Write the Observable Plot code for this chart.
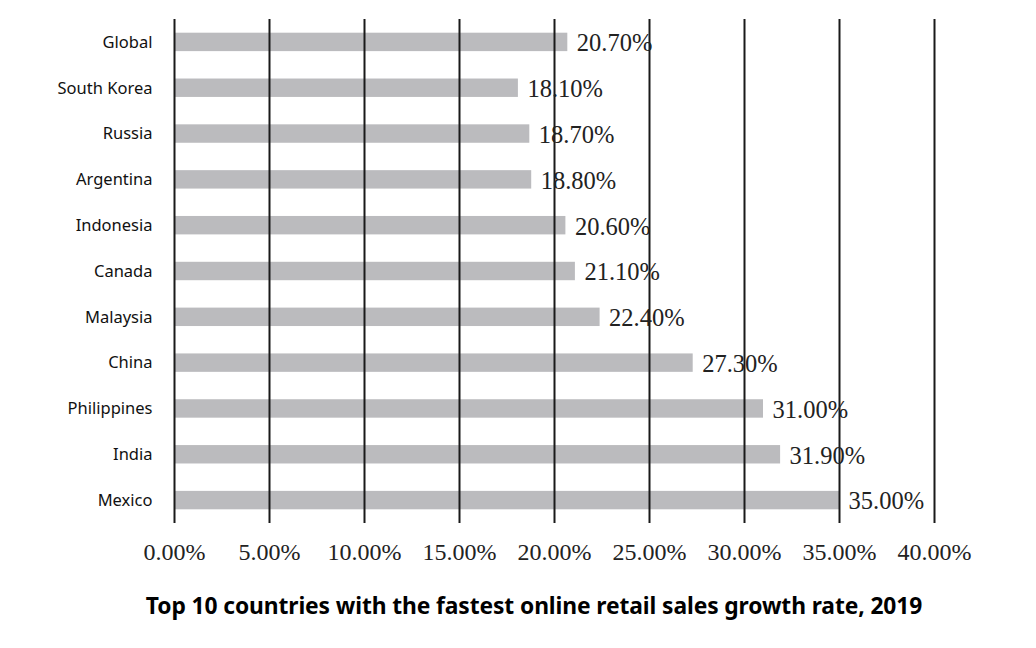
<!DOCTYPE html>
<html>
<head>
<meta charset="utf-8">
<script src="https://cdn.jsdelivr.net/npm/d3@7"></script>
<script src="https://cdn.jsdelivr.net/npm/@observablehq/plot@0.6"></script>
<style>
  html, body { margin: 0; padding: 0; background: #fff; }
  #wrap { position: relative; width: 1036px; height: 648px; }
  #title {
    position: absolute; top: 590px; left: 0; width: 1036px; box-sizing: border-box;
    padding-left: 32px; text-align: center;
    font-family: "Noto Sans", sans-serif; font-weight: bold; font-size: 22.8px;
    color: #000; line-height: 32px; letter-spacing: -0.1px;
  }
</style>
</head>
<body>
<div id="wrap">
  <div id="chart"></div>
  <div id="title">Top 10 countries with the fastest online retail sales growth rate, 2019</div>
</div>
<script>
const countries = ["Global", "South Korea", "Russia", "Argentina", "Indonesia", "Canada", "Malaysia", "China", "Philippines", "India", "Mexico"];
const growth = [20.7, 18.1, 18.7, 18.8, 20.6, 21.1, 22.4, 27.3, 31.0, 31.9, 35.0];
const xTicks = [0, 5, 10, 15, 20, 25, 30, 35, 40];

const data = countries.map((c, i) => ({country: c, value: growth[i]}));
const fmt = d => d.toFixed(2) + "%";

const chart = Plot.plot({
  width: 1036,
  height: 580,
  marginLeft: 174,
  marginRight: 102,
  marginTop: 19,
  marginBottom: 57,
  x: {domain: [0, 40], ticks: xTicks, tickFormat: fmt},
  y: {domain: countries, padding: 0, round: false},
  marks: [
    Plot.barX(data, {x: "value", y: "country", fill: "#bbbbbe", insetTop: 13.7, insetBottom: 13.7}),
    Plot.ruleX(xTicks, {stroke: "#1a1a1a", strokeWidth: 2}),
    Plot.text(data, {
      x: "value", y: "country", text: d => fmt(d.value), dx: 9, dy: 1, textAnchor: "start",
      fontFamily: "Liberation Serif, serif", fontSize: 24.5, fill: "#222"
    }),
    Plot.axisX({
      ticks: xTicks, tickFormat: fmt, tickSize: 0, tickPadding: 19,
      fontFamily: "Liberation Serif, serif", fontSize: 24, fill: "#222", label: null
    }),
    Plot.axisY({
      tickSize: 0, tickPadding: 22, label: null,
      fontFamily: "Noto Sans, sans-serif", fontSize: 16.5, fill: "#111"
    })
  ]
});
document.getElementById("chart").appendChild(chart);
</script>
</body>
</html>
